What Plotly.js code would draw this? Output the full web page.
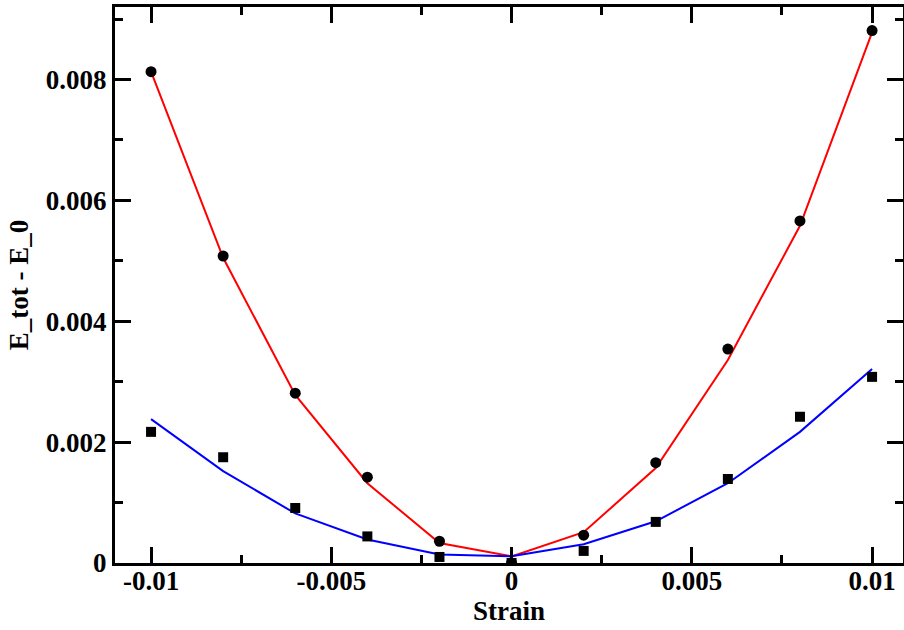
<!DOCTYPE html>
<html>
<head>
<meta charset="utf-8">
<script src="https://cdn.plot.ly/plotly-3.0.1.min.js"></script>
<style>html,body{margin:0;padding:0;background:#fff;}#chart{width:904px;height:630px;}</style>
</head>
<body>
<div id="chart"></div>
<script>
const strain = [-0.01, -0.008, -0.006, -0.004, -0.002, 0, 0.002, 0.004, 0.006, 0.008, 0.01];
const circleVals = [0.00813, 0.00508, 0.00281, 0.00142, 0.00036, 0.0, 0.00046, 0.00166, 0.00354, 0.00566, 0.00881];
const squareVals = [0.00217, 0.00175, 0.00091, 0.00044, 0.00010, 0.0, 0.00020, 0.00068, 0.00139, 0.00242, 0.00308];
const redFit = [0.00813, 0.00505, 0.00278, 0.00132, 0.00033, 0.00011, 0.00051, 0.00157, 0.00336, 0.00558, 0.00878];
const blueFit = [0.00238, 0.00152, 0.00082, 0.00039, 0.00014, 0.00011, 0.00031, 0.00069, 0.00132, 0.00217, 0.00321];
const xTickVals = [-0.01, -0.005, 0, 0.005, 0.01];
const xTickText = ["-0.01", "-0.005", "0", "0.005", "0.01"];
const yTickVals = [0, 0.002, 0.004, 0.006, 0.008];
const yTickText = ["0", "0.002", "0.004", "0.006", "0.008"];

const FONT = "Liberation Serif, Times New Roman, serif";

const traces = [
  {x: strain, y: redFit, mode: 'lines', line: {color: '#ff0000', width: 2}, showlegend: false, hoverinfo: 'skip'},
  {x: strain, y: blueFit, mode: 'lines', line: {color: '#0000ff', width: 2}, showlegend: false, hoverinfo: 'skip'},
  {x: strain, y: circleVals, mode: 'markers', marker: {symbol: 'circle', size: 11, color: '#000'}, showlegend: false},
  {x: strain, y: squareVals, mode: 'markers', marker: {symbol: 'square', size: 10, color: '#000'}, showlegend: false}
];

const axisCommon = {
  showgrid: false, zeroline: false,
  showline: true, linecolor: '#000', linewidth: 3,
  mirror: 'allticks',
  ticks: 'inside', ticklen: 16, tickwidth: 3, tickcolor: '#000',
  tickfont: {family: FONT, size: 27, color: '#000', weight: 'bold'}
};

const layout = {
  width: 904, height: 630,
  margin: {l: 115, r: 1, t: 7, b: 67},
  paper_bgcolor: '#fff', plot_bgcolor: '#fff',
  font: {family: FONT, color: '#000'},
  xaxis: Object.assign({}, axisCommon, {
    range: [-0.011, 0.010858],
    tickmode: 'array', tickvals: xTickVals, ticktext: xTickText,
    minor: {ticks: 'inside', ticklen: 8, tickwidth: 3, tickcolor: '#000', dtick: 0.0025, tick0: 0, showgrid: false},
    ticklabelstandoff: -8,
    title: {text: 'Strain', font: {family: FONT, size: 27, color: '#000', weight: 'bold'}, standoff: 6}
  }),
  yaxis: Object.assign({}, axisCommon, {
    range: [0, 0.0092],
    tickmode: 'array', tickvals: yTickVals, ticktext: yTickText,
    minor: {ticks: 'inside', ticklen: 8, tickwidth: 3, tickcolor: '#000', dtick: 0.001, tick0: 0, showgrid: false},
    ticklabelstandoff: 0,
    title: {text: 'E_tot - E_0', font: {family: FONT, size: 27, color: '#000', weight: 'bold'}, standoff: 10}
  })
};

Plotly.newPlot('chart', traces, layout, {displayModeBar: false, staticPlot: true});
</script>
</body>
</html>
